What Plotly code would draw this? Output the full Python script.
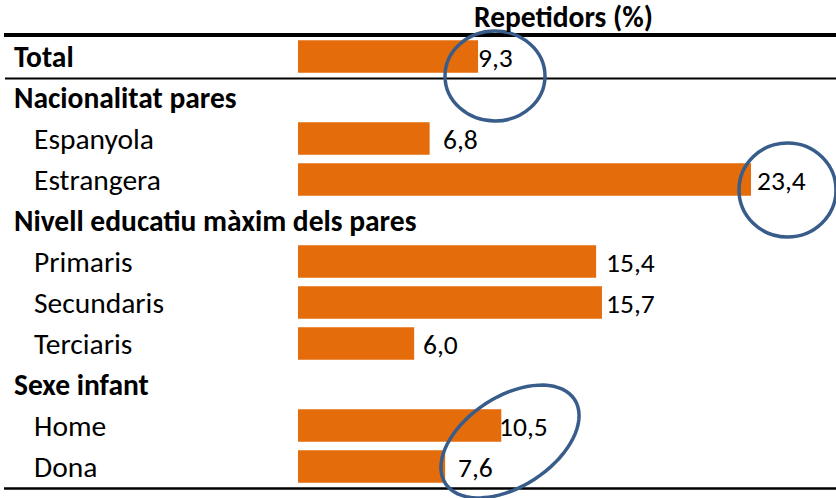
import numpy as np
import plotly.graph_objects as go

# ---- data ----
categories = ["Total", "Nacionalitat pares", "Espanyola", "Estrangera",
              "Nivell educatiu màxim dels pares", "Primaris", "Secundaris",
              "Terciaris", "Sexe infant", "Home", "Dona"]
values = [9.3, None, 6.8, 23.4, None, 15.4, 15.7, 6.0, None, 10.5, 7.6]
is_header = [True, True, False, False, True, False, False, False, True, False, False]
title_text = "Repetidors (%)"
# pixel gap between bar end and its value label (as placed in the original)
label_gap = [2, 0, 15, 8, 0, 12, 6, 11, 0, 0, 15]

# ---- layout geometry (pixels) ----
W, H = 836, 498
L, R, T, B = 298, 0, 36, 10
PW, PH = W - L - R, H - T - B
FONT = "Carlito, Lato, sans-serif"
ORANGE = "#E46C0A"
BLUE = "#385D8A"
LABEL_SIZE = 29.5
VALUE_SIZE = 27.5


def px(x):
    return (x - L) / PW


def py(y):
    return 1 - (y - T) / PH


fig = go.Figure()
fig.add_trace(go.Bar(
    x=values, y=categories, orientation="h",
    marker=dict(color=ORANGE, line=dict(width=0)),
    width=0.79, hoverinfo="skip",
))

annotations = []
for cat, hdr in zip(categories, is_header):
    annotations.append(dict(
        x=px(12 if hdr else 32), xref="paper", y=cat, yref="y",
        text=f"<b>{cat}</b>" if hdr else cat, showarrow=False,
        xanchor="left", yanchor="middle",
        font=dict(family=FONT, size=LABEL_SIZE, color="black"),
    ))
for cat, v, g in zip(categories, values, label_gap):
    if v is None:
        continue
    annotations.append(dict(
        x=v, xref="x", y=cat, yref="y",
        text=f"{v:.1f}".replace(".", ","), showarrow=False,
        xanchor="left", yanchor="middle", xshift=g - 3, yshift=-1,
        borderpad=0, font=dict(family=FONT, size=VALUE_SIZE, color="black"),
    ))
annotations.append(dict(
    x=px(563), xref="paper", y=py(17), yref="paper",
    text=f"<b>{title_text}</b>", showarrow=False,
    xanchor="center", yanchor="middle",
    font=dict(family=FONT, size=LABEL_SIZE, color="black"),
))

shapes = [
    dict(type="line", xref="paper", yref="paper", x0=px(4), x1=1, y0=py(35), y1=py(35),
         line=dict(color="black", width=4)),
    dict(type="line", xref="paper", yref="paper", x0=px(5), x1=1, y0=py(78.5), y1=py(78.5),
         line=dict(color="black", width=2)),
    dict(type="line", xref="paper", yref="paper", x0=px(4), x1=1, y0=py(488.5), y1=py(488.5),
         line=dict(color="black", width=2.5)),
    dict(type="circle", xref="paper", yref="paper", x0=px(445), x1=px(545), y0=py(121), y1=py(31),
         line=dict(color=BLUE, width=3.5)),
    dict(type="circle", xref="paper", yref="paper", x0=px(739), x1=px(836), y0=py(237), y1=py(143),
         line=dict(color=BLUE, width=3.5)),
]
# rotated ellipse around the "Sexe infant" labels
cx, cy, a, b, th = 510, 441.5, 77, 45, np.deg2rad(33)
t = np.linspace(0, 2 * np.pi, 73)
ex = cx + a * np.cos(t) * np.cos(th) - b * np.sin(t) * np.sin(th)
ey = cy - (a * np.cos(t) * np.sin(th) + b * np.sin(t) * np.cos(th))
path = "M " + " L ".join(f"{px(xx):.5f},{py(yy):.5f}" for xx, yy in zip(ex, ey)) + " Z"
shapes.append(dict(type="path", xref="paper", yref="paper", path=path,
                   line=dict(color=BLUE, width=3.5)))

fig.update_layout(
    width=W, height=H,
    margin=dict(l=L, r=R, t=T, b=B, pad=0),
    paper_bgcolor="white", plot_bgcolor="white",
    showlegend=False,
    bargap=0.2,
    xaxis=dict(range=[0, PW / 19.36], visible=False, fixedrange=True),
    yaxis=dict(range=[10 + 21.5 / 41, -20.5 / 41], visible=False, type="category",
               categoryorder="array", categoryarray=categories, fixedrange=True),
    annotations=annotations,
    shapes=shapes,
    font=dict(family=FONT),
)

fig.write_html("out.html", config={"displayModeBar": False},
               post_script="document.body.style.margin='0';document.body.style.overflow='hidden';")
